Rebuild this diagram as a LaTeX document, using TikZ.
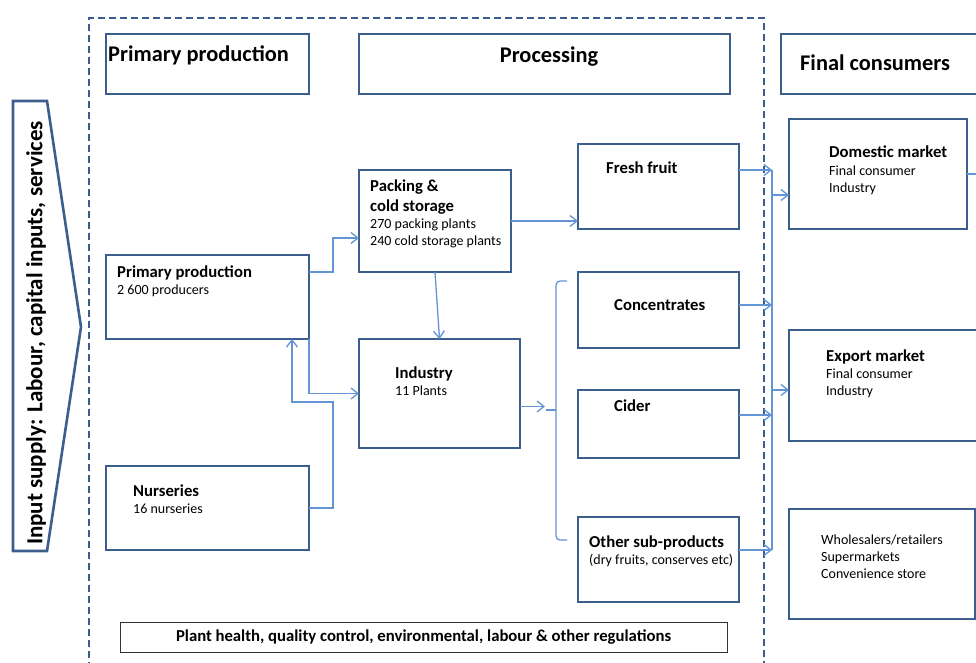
\documentclass[tikz,border=0pt]{standalone}
\usepackage{fontspec}
\setmainfont{Carlito}
\usetikzlibrary{arrows.meta}
\definecolor{boxblue}{RGB}{59,94,140}
\definecolor{linkblue}{RGB}{98,148,214}
\newcommand{\boxtitle}[1]{{\fontsize{16.7}{20}\selectfont\bfseries #1}}

\begin{document}
\begin{tikzpicture}
	[   x=1pt,y=-1pt,
		box/.style={draw=boxblue,line width=2.6pt,anchor=north west,inner sep=0pt,outer sep=0pt},
		txt/.style={anchor=base west,align=left,inner sep=0pt,font=\fontsize{14}{17}\selectfont},
		hdr/.style={anchor=base west,inner sep=0pt,font=\fontsize{22.4}{26}\selectfont\bfseries},
		link/.style={draw=linkblue,line width=1.3pt},
	]
	\tikzset{normal arrow/.style={link,-{Straight Barb[length=7pt,width=11pt]}}}
	\useasboundingbox (0,0) rectangle (976,663);
	\clip (0,0) rectangle (976,663);

	% chain stages: input supply, the dashed production/processing frame, consumers
	\draw[boxblue,line width=2.6pt,line join=miter] (13,101) -- (47,101) -- (81,327) -- (47,551) -- (13,551) -- cycle;
	\node[rotate=90,font=\fontsize{23}{27}\selectfont\bfseries] (inputs) at (36,333) {Input supply: Labour, capital inputs, services};
	\draw[boxblue,line width=2.2pt,dash pattern=on 7pt off 4pt] (89,680) -- (89,18) -- (764,18) -- (764,680);

	\node[box,minimum width=203pt,minimum height=60pt] (hd-prim) at (106,34) {};
	\node[hdr] (hd-prim-t) at (108,62) {Primary production};
	\node[box,minimum width=371pt,minimum height=60pt] (hd-proc) at (359,34) {};
	\node[hdr,anchor=base] (hd-proc-t) at (549,63) {Processing};
	\node[box,minimum width=215pt,minimum height=60pt] (hd-cons) at (781,34) {};
	\node[hdr] (hd-cons-t) at (800,71) {Final consumers};

	% primary production (text nodes sit on the baseline of their last line)
	\node[box,minimum width=203pt,minimum height=84pt] (pp) at (106,255) {};
	\node[txt] (pp-t) at (117,294) {\boxtitle{Primary production}\\2 600 producers};
	\node[box,minimum width=203pt,minimum height=84pt] (nur) at (106,466) {};
	\node[txt] (nur-t) at (133,513) {\boxtitle{Nurseries}\\16 nurseries};

	% processing
	\node[box,minimum width=152pt,minimum height=102pt] (pack) at (359,170) {};
	\node[txt] (pack-t) at (370,245) {\boxtitle{Packing \&}\\[3pt]\boxtitle{cold storage}\\270 packing plants\\240 cold storage plants};
	\node[box,minimum width=161pt,minimum height=109pt] (ind) at (359,339) {};
	\node[txt] (ind-t) at (395,395) {\boxtitle{Industry}\\11 Plants};

	\node[box,minimum width=161pt,minimum height=85pt] (fresh) at (578,144) {};
	\node[txt] (fresh-t) at (606,174) {\boxtitle{Fresh fruit}};
	\node[box,minimum width=161pt,minimum height=76pt] (conc) at (578,272) {};
	\node[txt] (conc-t) at (614,310) {\boxtitle{Concentrates}};
	\node[box,minimum width=161pt,minimum height=68pt] (cider) at (578,390) {};
	\node[txt] (cider-t) at (614,411) {\boxtitle{Cider}};
	\node[box,minimum width=161pt,minimum height=85pt] (other) at (578,517) {};
	\node[txt] (other-t) at (589,564) {\boxtitle{Other sub-products}\\(dry fruits, conserves etc)};

	% final consumers
	\node[box,minimum width=178pt,minimum height=110pt] (dom) at (789,119) {};
	\node[txt] (dom-t) at (829,192) {\boxtitle{Domestic market}\\Final consumer\\Industry};
	\node[box,minimum width=210pt,minimum height=111pt] (exp) at (789,330) {};
	\node[txt] (exp-t) at (826,395) {\boxtitle{Export market}\\Final consumer\\Industry};
	\node[box,minimum width=186pt,minimum height=110pt] (whole) at (789,509) {};
	\node[txt] (whole-t) at (821,578) {Wholesalers/retailers\\Supermarkets\\Convenience store};

	\node[draw=black!80,line width=1pt,minimum width=607pt,minimum height=30pt,anchor=north west,inner sep=0pt,outer sep=0pt,
		font=\fontsize{16.7}{20}\selectfont\bfseries] (regs) at (120,622)
		{Plant health, quality control, environmental, labour \& other regulations};

	% flows
	\path[normal arrow] ([yshift=25pt]pp.east) -- ++(24,0) |- ([yshift=-17pt]pack.west);
	\path[normal arrow] (pp.south east) |- (ind.west);
	\path[normal arrow] (nur.east) -- ++(24,0) -- ++(0,-106) -| ([xshift=-17pt]pp.south east);
	\path[normal arrow] (pack.south) -- (ind.north);
	\path[normal arrow] (pack.east) -- (pack.east -| fresh.west);

	\coordinate (brace-tip) at (545,406.5);
	\path[normal arrow] ([yshift=-13pt]ind.east) -- (brace-tip);
	\draw[link,rounded corners=4pt] (567,281) -- (556,281) -- (556,540) -- (567,540);
	\draw[link] (546,410) -- (556,410);

	\coordinate (bus-top) at (772,170);
	\coordinate (bus-bot) at (772,550);
	\draw[link] (bus-top) -- (bus-bot);
	\foreach \n/\s in {fresh/16.5,conc/5,cider/9,other/9.5}
	{
		\coordinate (\n-out) at ([yshift=\s pt]\n.east);
		\path[normal arrow] (\n-out) -- (\n-out -| bus-top);
	}
	\foreach \n/\s in {dom/-21,exp/-4.5}
	{
		\coordinate (\n-in) at ([yshift=\s pt]\n.west);
		\path[normal arrow] (\n-in -| bus-top) -- (\n-in);
	}
	\coordinate (dom-next) at (990,174);
	\draw[link] (dom.east) -- (dom-next);

\end{tikzpicture}
\end{document}
